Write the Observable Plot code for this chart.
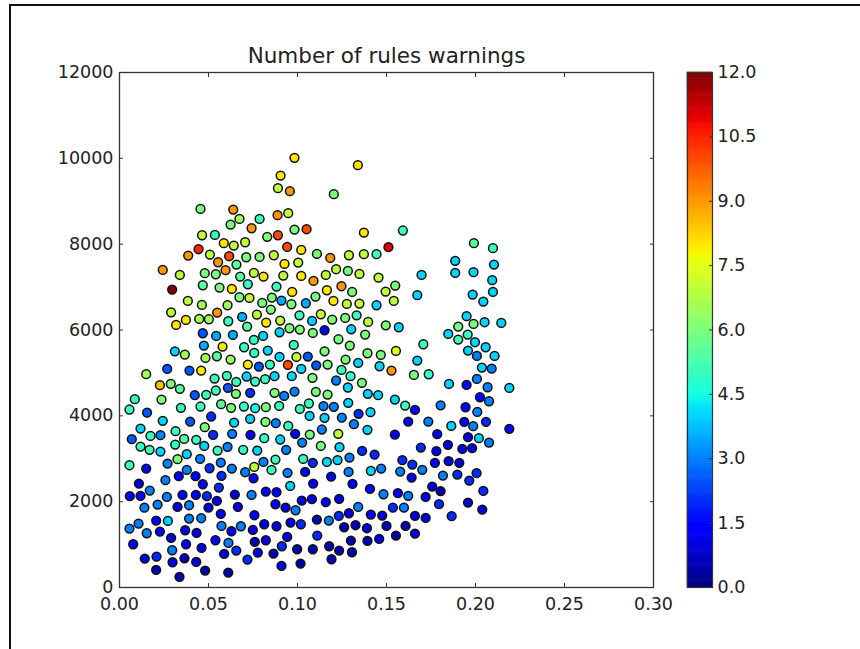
<!DOCTYPE html>
<html>
<head>
<meta charset="utf-8">
<script src="https://cdn.jsdelivr.net/npm/d3@7"></script>
<script src="https://cdn.jsdelivr.net/npm/@observablehq/plot@0.6"></script>
<style>
html,body{margin:0;padding:0;background:#fff;overflow:hidden}
#page{position:relative;width:860px;height:649px;overflow:hidden}
#edge{position:absolute;left:9px;top:4px;width:860px;height:660px;border-left:2px solid #111;border-top:2px solid #111}
#main,#bar{position:absolute;left:0;top:0}
svg{overflow:visible}
</style>
</head>
<body>
<div id="page"><div id="edge"></div><div id="main"></div><div id="bar"></div></div>
<script>
const titleText = "Number of rules warnings";
const xTicks = [0, 0.05, 0.10, 0.15, 0.20, 0.25, 0.30];
const yTicks = [0, 2000, 4000, 6000, 8000, 10000, 12000];
const barTicks = [0, 1.5, 3, 4.5, 6, 7.5, 9, 10.5, 12];

// each row: ratio, count, warnings
const rowsTop = [
[.0455,8822,6],[.0639,8807,9],[.0674,8589,6.5],[.0624,8457,6],[.0787,8589,5],[.0742,8371,9],[.0464,8208,7],[.0536,8216,5],[.0586,8022,8],[.0642,7967,7],[.0706,8045,7],[.0444,7882,10.5],[.0386,7734,9],[.0508,7758,7],[.0616,7719,10],[.0554,7579,9],[.0712,7695,6],[.0787,7703,6],[.0657,7525,5.5],[.0596,7393,9],[.0243,7400,9],[.0339,7284,7],[.0479,7323,6],[.0541,7299,6],[.0678,7245,5.5],[.0755,7330,7],[.0809,7245,8],[.0468,7043,5.5],[.0562,6988,6],[.0631,6957,8],[.0721,7066,5],[.0296,6942,12],[.0674,6763,6],[.0730,6748,7],[.0384,6678,7],[.0463,6584,6.5],[.0607,6577,6.5],[.0290,6413,7],[.0549,6406,9],[.0448,6258,6.5],[.0502,6250,6.5],[.0373,6235,8],[.0318,6118,8],[.0611,6204,5],[.0689,6305,3.5],[.0772,6359,7],[.0717,6079,5.5],[.0468,5924,2.5],[.0543,5862,3.5],[.0637,5885,3.5],[.0807,5862,4],[.0755,5769,5],[.0579,5613,8],[.0474,5636,3.5],[.0700,5598,5],[.0757,5465,5],[.0311,5504,4],[.0367,5427,6.5],[.0483,5349,6.5],[.0547,5388,5.5],[.0624,5310,6.5],[.0721,5194,8],[.0783,5147,2.5],[.0268,5093,2.5],[.0393,5054,2.5],[.0459,5054,8],
[.0983,10011,8],[.1339,9840,8],[.0905,9599,8],[.0890,9304,7],[.0957,9234,9],[.1204,9164,6],[.0888,8675,9],[.0948,8721,7],[.0983,8340,6],[.1051,8348,10],[.0890,8208,10],[.0830,8170,6],[.1373,8270,8],[.1592,8318,5],[.0942,7936,10],[.1021,7866,8],[.1511,7929,11],[.0867,7742,7],[.1109,7773,6],[.1184,7680,9],[.1289,7742,7],[.1373,7766,7],[.1444,7766,5],[.0927,7540,8],[.1004,7571,7],[.1217,7416,7],[.1283,7377,6],[.1348,7307,7],[.0920,7268,7],[.1021,7260,8],[.1159,7284,7],[.1455,7222,7],[.1090,7144,9],[.0882,7012,5],[.1247,7020,9],[.1549,7035,6],[.1165,6926,8],[.1307,6887,6],[.1495,6895,7],[.0970,6887,8],[.1101,6779,6],[.0856,6755,6],[.0910,6685,3.5],[.0802,6631,6],[.0966,6600,6],[.1047,6623,3.5],[.1202,6678,8],[.1277,6608,7],[.1348,6615,7],[.1541,6678,7],[.1444,6577,4],[.0850,6476,6],[.1011,6343,5],[.1131,6367,7],[.1268,6282,6],[.1332,6343,5],[.0824,6173,8],[.0903,6219,7],[.1082,6212,4],[.1195,6243,6],[.1397,6188,7],[.1496,6110,6],[.0955,6041,6],[.1013,6010,6],[.1152,5994,1.5],[.1302,6017,4],[.1569,6064,4],[.0899,5947,4],[.1086,5932,6],[.1380,5893,6],[.1230,5784,6],[.1294,5636,6],[.0979,5652,5],[.0833,5520,4],[.1152,5504,6],[.1393,5458,6],[.1468,5419,6],[.1553,5512,7.5],[.0899,5372,4],[.0994,5372,7],[.1058,5380,2.5],[.1270,5310,6],[.1341,5232,4],[.0845,5194,5],[.0946,5186,10],[.1105,5178,2.5],[.1169,5194,6],[.1461,5155,4],[.1528,5054,9],[.1021,5093,4],[.1247,5070,5]
];
const rowsLowLeft = [
[.0150,4970,6.5],[.0227,4714,8.5],[.0288,4745,6],[.0339,4629,5.5],[.0534,4869,5],[.0603,4932,5],[.0656,4792,5],[.0714,4916,4],[.0762,4799,5],[.0609,4652,2.5],[.0541,4590,5],[.0423,4481,2.5],[.0487,4489,5],[.0654,4512,6],[.0734,4535,2],[.0086,4388,5],[.0236,4380,6],[.0056,4147,5],[.0155,4077,2.5],[.0345,4186,5],[.0455,4217,5],[.0571,4271,5.5],[.0627,4186,6],[.0699,4217,5],[.0762,4178,4.5],[.0515,3984,2],[.0243,3883,4],[.0397,3867,2.5],[.0644,3844,4],[.0734,3929,4],[.0118,3704,4],[.0479,3735,6],[.0315,3642,5],[.0174,3533,5],[.0230,3549,3],[.0069,3455,2.5],[.0526,3556,2],[.0633,3580,3],[.0736,3556,1.5],[.0363,3463,5.5],[.0431,3440,5],[.0313,3331,5],[.0476,3300,4],[.0118,3284,5],[.0169,3207,5],[.0230,3168,4],[.0607,3277,3],[.0551,3191,5],[.0695,3207,5],[.0774,3191,4],[.0378,3106,4],[.0326,2989,6],[.0453,2997,3],[.0569,2911,3],[.0270,2888,3],[.0056,2849,5],[.0150,2771,1.5],[.0757,2810,7],[.0506,2779,2],[.0631,2771,3],[.0378,2740,3],[.0706,2686,3],[.0573,2601,2],[.0333,2593,1.5],[.0427,2593,1.5],[.0753,2546,1.5],[.0258,2500,3],[.0468,2406,1.5],[.0109,2422,1],[.0558,2329,2],[.0170,2259,3],[.0058,2127,1.5],[.0118,2134,1.5],[.0266,2111,3],[.0354,2158,1.5],[.0429,2158,1.5],[.0491,2127,2],[.0648,2165,1],[.0742,2158,3],[.0547,2018,1],[.0140,1862,3],[.0214,1932,3],[.0391,1917,3],[.0326,1878,1],[.0500,1862,1],[.0665,1878,1],[.0569,1715,1.5],[.0758,1684,1.5],[.0206,1559,1.5],[.0272,1552,4],[.0107,1490,3],[.0391,1606,3],[.0459,1614,3],[.0056,1373,3],[.0573,1435,3],[.0682,1427,3],[.0153,1264,3],[.0227,1303,1.5],[.0369,1334,1],[.0433,1272,1],[.0629,1311,1.5],[.0749,1342,1],[.0290,1155,1],[.0539,1101,1.5],[.0612,1039,3],[.0760,1062,.5],[.0077,1008,1.5],[.0374,1008,1.5],[.0461,922,1],[.0296,868,3],[.0656,860,2],[.0777,813,1],[.0588,782,1],[.0142,674,1],[.0208,720,2],[.0365,681,.5],[.0298,588,1],[.0431,596,1],[.0719,650,2],[.0206,409,.5],[.0481,394,.5],[.0611,347,.5],[.0337,246,.5]
];
const rowsLowMiddle = [
[.0818,4854,5],[.0871,4924,4],[.0968,4924,4],[.1084,4885,6],[.1298,4924,5],[.1217,4823,3],[.1362,4768,6],[.1283,4660,4],[.0871,4535,6],[.0925,4465,3],[.0983,4566,3],[.1103,4559,6],[.1169,4496,6],[.1395,4512,4],[.1453,4481,4],[.1547,4380,4],[.1285,4302,4],[.1064,4287,5],[.1013,4162,5],[.1146,4225,3],[.1204,4209,3],[.0897,4232,5],[.0822,4201,6],[.1410,4085,4],[.1343,4046,2],[.1068,3999,4],[.1152,3953,4],[.1249,3960,3],[.0820,3859,6],[.0878,3828,3],[.1317,3805,3],[.0948,3766,5],[.1137,3681,3],[.1393,3673,4],[.0987,3580,1.5],[.1069,3564,6],[.1229,3580,7],[.1547,3564,1.5],[.0813,3479,5],[.0903,3448,4],[.1026,3378,3],[.1131,3300,6],[.1236,3269,4],[.0936,3207,3],[.1363,3183,2],[.1433,3098,2],[.0876,2980,5],[.1032,2997,5],[.1292,3028,3],[.0809,2927,3],[.1086,2904,2],[.1165,2927,4],[.1225,2966,4],[.0854,2740,5],[.1287,2694,3],[.1412,2717,4],[.1470,2771,3],[.0944,2671,3],[.1043,2694,1.5],[.1189,2585,1.5],[.1088,2422,1.5],[.1309,2414,1.5],[.0959,2367,4],[.1407,2298,1.5],[.0822,2235,1.5],[.0882,2220,1.5],[.1483,2173,3],[.1564,2197,1.5],[.1024,2026,1],[.1081,2057,1],[.1159,1987,1.5],[.1234,2065,1],[.0876,1940,1.5],[.0933,1862,1],[.0989,1800,3],[.1341,1878,3],[.1536,1862,2],[.1289,1730,1],[.1412,1699,1.5],[.1476,1676,1],[.1232,1668,2],[.1109,1583,.5],[.1176,1559,3],[.0813,1474,1],[.0882,1427,1],[.0961,1513,1],[.1019,1474,2],[.1262,1404,.5],[.1326,1451,.5],[.1390,1381,1],[.1500,1435,.5],[.0942,1179,1],[.1111,1210,2],[.1553,1210,.5],[.0822,1101,1],[.1300,1093,.5],[.1393,1085,.5],[.1459,1132,1],[.0912,961,2],[.1178,961,.5],[.0865,790,.5],[.0998,891,.5],[.1086,891,.5],[.1234,860,.5],[.1306,821,.5],[.1191,658,.5],[.0910,503,1],[.1017,557,.5]
];
const rowsRight = [
[.1991,8023,5.5],[.2098,7906,5],[.1886,7611,4],[.2104,7525,4],[.1886,7331,4],[.1989,7347,4],[.1697,7284,4],[.2094,7160,4],[.1673,6811,4],[.1984,6826,4],[.2098,6888,4],[.2044,6663,4],[.1950,6321,4],[.1903,6080,6],[.1989,6142,6],[.2051,6181,4],[.2145,6166,4],[.1847,5909,4],[.1956,5894,5],[.1903,5777,5],[.1997,5715,4],[.1707,5668,5],[.2057,5598,4],[.1958,5521,4],[.2008,5396,3],[.2107,5396,4],[.1673,5288,4],[.2036,5124,4],[.2091,5101,3],[.1654,4953,6],[.1737,4969,5],[.2008,4860,3],[.1851,4744,4],[.1950,4720,1.5],[.2068,4666,3],[.2190,4650,4],[.2025,4433,1.5],[.2076,4340,3],[.1605,4239,5],[.1660,4138,1.5],[.1804,4246,3],[.1944,4200,1.5],[.2010,4091,3],
[.1622,3867,1.5],[.1735,3867,3],[.1864,3766,4],[.1937,3860,1.5],[.1987,3759,3],[.2059,3860,2],[.2190,3697,1.5],[.1785,3572,1.5],[.1958,3502,1],[.2019,3479,4],[.2076,3378,3],[.1693,3261,2],[.1845,3324,1],[.1780,3176,1],[.1926,3230,1],[.1981,3246,1],[.1589,2966,2],[.1645,2865,2],[.1772,2904,1.5],[.1849,2943,1],[.1909,2904,1],[.1577,2702,3],[.1701,2741,3],[.1641,2562,1.5],[.1817,2609,3],[.1898,2632,2],[.2006,2663,2],[.1965,2492,2],[.1757,2352,1],[.1804,2244,.5],[.1622,2135,3],[.2044,2251,2],[.1720,2111,1],[.1598,1863,3],[.1795,1941,2],[.1958,1979,1],[.2038,1816,1],[.1660,1669,1],[.1720,1622,1],[.1866,1661,2],[.1607,1435,.5],[.1660,1257,1]
];
const points = [...rowsTop, ...rowsLowLeft, ...rowsLowMiddle, ...rowsRight];

// matplotlib "jet", as fraction of the 0 to 12 range
const jetAt = [0,.11,.125,.34,.35,.375,.64,.65,.66,.89,.91,1];
const jetColors = ["#000080","#0000ff","#0000ff","#00dbff","#00e5f7","#14ffe2","#efff08","#f7f600","#ffec00","#ff1300","#e80000","#800000"];
const color = {type:"linear", domain: jetAt.map(t => t * 12), range: jetColors, interpolate: "rgb"};

const font = "'DejaVu Sans', sans-serif";
const ink = "#222";

const main = Plot.plot({
  width: 860, height: 649,
  marginLeft: 119, marginRight: 207, marginTop: 72, marginBottom: 62,
  style: {fontFamily: font, fontSize: "17.5px", color: ink, background: "transparent"},
  x: {domain: [0, 0.30], ticks: xTicks, label: null, tickFormat: d3.format(".2f")},
  y: {domain: [0, 12000], ticks: yTicks, label: null, tickFormat: d3.format("d")},
  color,
  marks: [
    Plot.dot(points, {x: d => d[0], y: d => d[1], fill: d => d[2], r: 4.4, stroke: "#111", strokeWidth: 1.5}),
    Plot.frame({stroke: "#333", strokeWidth: 1.3}),
    Plot.axisX(xTicks, {anchor: "bottom", tickSize: -4, tickPadding: 14, label: null, tickFormat: d3.format(".2f"), stroke: "#333"}),
    Plot.axisX(xTicks, {anchor: "top", tickSize: -4, tickFormat: () => "", label: null, stroke: "#333"}),
    Plot.axisY(yTicks, {anchor: "left", tickSize: -4, tickPadding: 10, label: null, tickFormat: d3.format("d"), stroke: "#333"}),
    Plot.axisY(yTicks, {anchor: "right", tickSize: -4, tickFormat: () => "", label: null, stroke: "#333"}),
    Plot.text([titleText], {frameAnchor: "top", dy: -25, fontSize: 21.5, lineAnchor: "top", fill: ink})
  ]
});
document.getElementById("main").append(main);

const bar = Plot.plot({
  width: 860, height: 649,
  marginLeft: 687, marginRight: 148, marginTop: 72, marginBottom: 62,
  style: {fontFamily: font, fontSize: "17.5px", color: ink, background: "transparent"},
  x: {domain: [0, 1], axis: null},
  y: {domain: [0, 12], ticks: barTicks, label: null},
  color,
  marks: [
    Plot.rect(d3.range(0, 240), {x1: 0, x2: 1, y1: i => i / 20, y2: i => (i + 1) / 20, fill: i => (i + 0.5) / 20, inset: -0.3}),
    Plot.frame({stroke: "#333", strokeWidth: 1.2}),
    Plot.axisY(barTicks, {anchor: "right", tickSize: -4, tickPadding: 9, label: null, tickFormat: d3.format(".1f"), stroke: "#333"})
  ]
});
document.getElementById("bar").append(bar);
</script>
</body>
</html>
